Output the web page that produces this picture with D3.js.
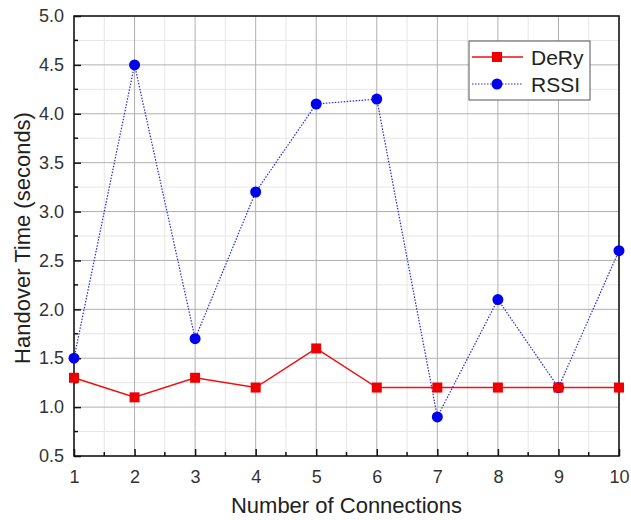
<!DOCTYPE html>
<html>
<head>
<meta charset="utf-8">
<script src="https://cdn.jsdelivr.net/npm/d3@7"></script>
<style>
body { margin:0; background:#fff; }
text { font-family: "Liberation Sans", Arial, sans-serif; }
</style>
</head>
<body>
<div id="chart"></div>
<script>
const connections = [1,2,3,4,5,6,7,8,9,10]
const dery = [1.3,1.1,1.3,1.2,1.6,1.2,1.2,1.2,1.2,1.2]
const rssi = [1.5,4.5,1.7,3.2,4.1,4.15,0.9,2.1,1.2,2.6]
const yTicks = [0.5,1.0,1.5,2.0,2.5,3.0,3.5,4.0,4.5,5.0]

const width = 631
const height = 520
const margin = { top:16, right:12, bottom:64, left:74 }
const innerWidth = width - margin.left - margin.right
const innerHeight = height - margin.top - margin.bottom

const svg = d3.select('#chart').append('svg')
  .attr('width', width).attr('height', height)
const g = svg.append('g').attr('transform', `translate(${margin.left},${margin.top})`)

const xScale = d3.scaleLinear().domain([1,10]).range([0,innerWidth])
const yScale = d3.scaleLinear().domain([0.5,5]).range([innerHeight,0])

// minor grid
const xMinor = d3.range(1.5,10,1)
const yMinor = d3.range(0.75,5,0.5)
g.append('g').selectAll('line').data(xMinor).enter().append('line')
  .attr('x1',d=>xScale(d)).attr('x2',d=>xScale(d)).attr('y1',0).attr('y2',innerHeight)
  .attr('stroke','#e6e6e6').attr('stroke-width',1)
g.append('g').selectAll('line').data(yMinor).enter().append('line')
  .attr('y1',d=>yScale(d)).attr('y2',d=>yScale(d)).attr('x1',0).attr('x2',innerWidth)
  .attr('stroke','#e6e6e6').attr('stroke-width',1)
// major grid
g.append('g').selectAll('line').data(connections).enter().append('line')
  .attr('x1',d=>xScale(d)).attr('x2',d=>xScale(d)).attr('y1',0).attr('y2',innerHeight)
  .attr('stroke','#b0b0b0').attr('stroke-width',1)
g.append('g').selectAll('line').data(yTicks).enter().append('line')
  .attr('y1',d=>yScale(d)).attr('y2',d=>yScale(d)).attr('x1',0).attr('x2',innerWidth)
  .attr('stroke','#b0b0b0').attr('stroke-width',1)

// axes
const xAxis = d3.axisBottom(xScale).tickValues(connections).tickFormat(d3.format('d'))
  .tickSizeInner(-7).tickSizeOuter(0).tickPadding(14)
const xAxisGroup = g.append('g').attr('transform',`translate(0,${innerHeight})`).call(xAxis)
const yAxis = d3.axisLeft(yScale).tickValues(yTicks).tickFormat(d3.format('.1f'))
  .tickSizeInner(-7).tickSizeOuter(0).tickPadding(10)
const yAxisGroup = g.append('g').call(yAxis)
;[xAxisGroup,yAxisGroup].forEach(a=>{
  a.select('.domain').remove()
  a.selectAll('.tick line').attr('stroke','#111').attr('stroke-width',1.5)
  a.selectAll('.tick text').attr('font-size',18).attr('fill','#333')
    .style('font-family','"Liberation Sans", Arial, sans-serif')
})
// minor ticks
g.append('g').selectAll('line').data(xMinor).enter().append('line')
  .attr('x1',d=>xScale(d)).attr('x2',d=>xScale(d)).attr('y1',innerHeight).attr('y2',innerHeight-4)
  .attr('stroke','#111').attr('stroke-width',1.5)
g.append('g').selectAll('line').data(yMinor).enter().append('line')
  .attr('y1',d=>yScale(d)).attr('y2',d=>yScale(d)).attr('x1',0).attr('x2',4)
  .attr('stroke','#111').attr('stroke-width',1.5)

// frame
g.append('rect').attr('x',0).attr('y',0).attr('width',innerWidth).attr('height',innerHeight)
  .attr('fill','none').attr('stroke','#111').attr('stroke-width',1.5)

// lines
const lineFor = vals => d3.line().x((d,i)=>xScale(connections[i])).y(d=>yScale(d))(vals)
g.append('path').attr('d',lineFor(rssi)).attr('fill','none')
  .attr('stroke','#2a2ae0').attr('stroke-width',1.2).attr('stroke-dasharray','1.5,1.5')
g.append('path').attr('d',lineFor(dery)).attr('fill','none')
  .attr('stroke','#ee1111').attr('stroke-width',1.5)

g.append('g').selectAll('circle').data(rssi).enter().append('circle')
  .attr('cx',(d,i)=>xScale(connections[i])).attr('cy',d=>yScale(d)).attr('r',5.5)
  .attr('fill','#0000ee')
g.append('g').selectAll('rect').data(dery).enter().append('rect')
  .attr('x',(d,i)=>xScale(connections[i])-5).attr('y',d=>yScale(d)-5)
  .attr('width',10).attr('height',10).attr('fill','#ee0000')

// legend
const legend = svg.append('g').attr('transform','translate(469,41)')
legend.append('rect').attr('width',121).attr('height',59)
  .attr('fill','#fff').attr('stroke','#555').attr('stroke-width',1)
legend.append('line').attr('x1',3).attr('x2',54).attr('y1',16).attr('y2',16)
  .attr('stroke','#ee1111').attr('stroke-width',1.5)
legend.append('rect').attr('x',23).attr('y',11).attr('width',10).attr('height',10).attr('fill','#ee0000')
legend.append('text').attr('x',62).attr('y',24).text('DeRy').attr('font-size',21).attr('fill','#222')
legend.append('line').attr('x1',3).attr('x2',54).attr('y1',43).attr('y2',43)
  .attr('stroke','#2a2ae0').attr('stroke-width',1.2).attr('stroke-dasharray','1.5,1.5')
legend.append('circle').attr('cx',28).attr('cy',43).attr('r',5.5).attr('fill','#0000ee')
legend.append('text').attr('x',62).attr('y',51).text('RSSI').attr('font-size',21).attr('fill','#222')

// axis titles
svg.append('text').text('Number of Connections')
  .attr('x',margin.left+innerWidth/2).attr('y',513).attr('text-anchor','middle')
  .attr('font-size',22).attr('fill','#222')
svg.append('text').text('Handover Time (seconds)')
  .attr('transform',`translate(30,${margin.top+innerHeight/2 + 2}) rotate(-90)`)
  .attr('text-anchor','middle').attr('font-size',22).attr('fill','#222')
</script>
</body>
</html>
